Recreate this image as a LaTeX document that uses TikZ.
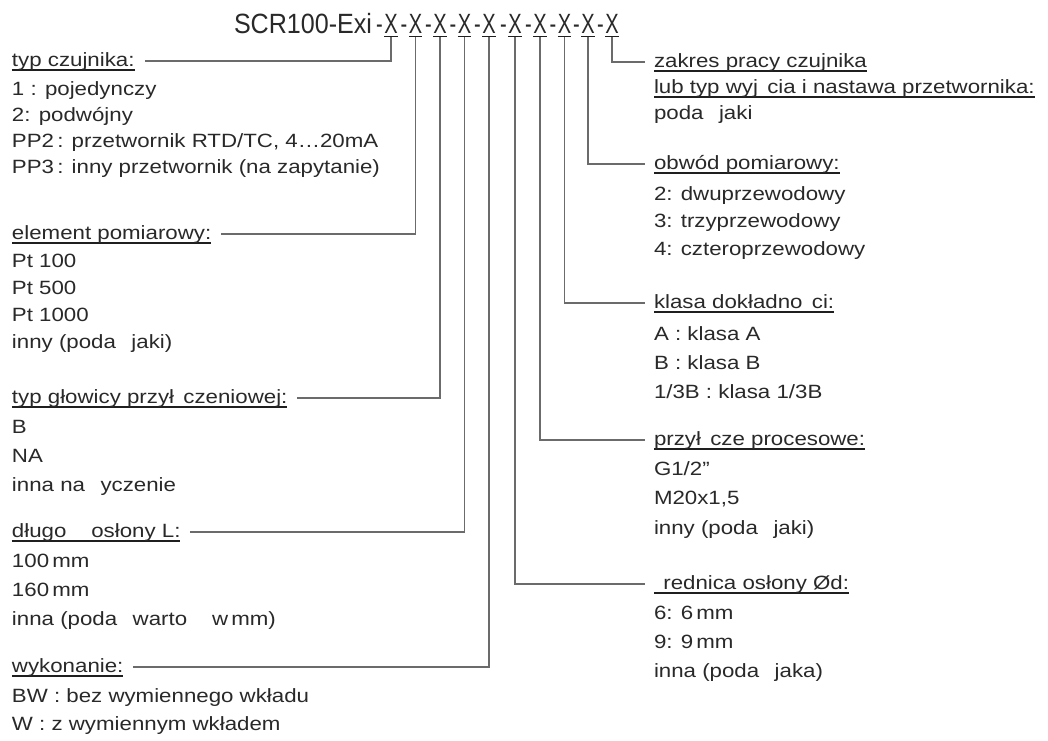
\documentclass[tikz,border=0pt]{standalone}
\usepackage{fontspec}
\setmainfont[FakeStretch=1.16]{Liberation Sans}
\newfontfamily\titlefont[FakeStretch=0.9]{Liberation Sans}
\newfontfamily\xfont[FakeStretch=0.72]{Liberation Sans}
\usetikzlibrary{calc}
\newcommand\ul[1]{\setbox0=\hbox{#1}\rlap{\color{black!88}\rule[-3.3pt]{\wd0}{1.2pt}}\box0}
\newcommand\gp{\hspace{7pt}}
\begin{document}
\begin{tikzpicture}[x=0.75pt,y=-0.75pt,
  txt/.style={anchor=base west,inner sep=0pt,outer sep=0pt,text=black!84,font=\fontsize{14.4pt}{17pt}\selectfont},
  conn/.style={draw=black!58,line width=0.9pt},
  ttl/.style={anchor=base,inner sep=0pt,outer sep=0pt,text=black!84,font=\titlefont\fontsize{20.9pt}{24pt}\selectfont},
  xl/.style={anchor=base,inner sep=0pt,outer sep=0pt,text=black!84,font=\xfont\fontsize{20.9pt}{24pt}\selectfont}]
\useasboundingbox (0,0) rectangle (1048,740);
\fill[white] (0,0) rectangle (1048,740);

% title
\node[ttl,anchor=base east] (title) at (372,33) {SCR100-Exi};
\foreach \xx [count=\i] in {391,415.5,440,464.5,489,515,540,564.5,588,612}
  \node[xl] (X\i) at (\xx,33) {\llap{-\kern1.2pt}\ul{X}};

% left column
\node[txt] (L1) at (12,66.5) {\ul{typ czujnika:}};
\foreach \t [count=\i] in {{1 : pojedynczy},{2: podwójny},{PP2\,: przetwornik RTD/TC, 4…20mA},{PP3\,: inny przetwornik (na zapytanie)}}
  \node[txt] (L1i\i) at (12,{95+(\i-1)*26}) {\t};

\node[txt] (L2) at (12,239.5) {\ul{element pomiarowy:}};
\foreach \t [count=\i] in {{Pt 100},{Pt 500},{Pt 1000},{inny (poda\gp{} jaki)}}
  \node[txt] (L2i\i) at (12,{267+(\i-1)*27}) {\t};

\node[txt] (L3) at (12,403.5) {\ul{typ głowicy przył\gp czeniowej:}};
\foreach \t [count=\i] in {{B},{NA},{inna na \gp yczenie}}
  \node[txt] (L3i\i) at (12,{433.5+(\i-1)*29}) {\t};

\node[txt] (L4) at (12,537.5) {\ul{długo\gp\gp{} osłony L:}};
\foreach \t [count=\i] in {{100\,mm},{160\,mm},{inna (poda\gp{} warto\gp\gp{} w\,mm)}}
  \node[txt] (L4i\i) at (12,{567+(\i-1)*29}) {\t};

\node[txt] (L5) at (12,672.5) {\ul{wykonanie:}};
\foreach \t [count=\i] in {{BW : bez wymiennego wkładu},{W : z wymiennym wkładem}}
  \node[txt] (L5i\i) at (12,{702+(\i-1)*28}) {\t};

% right column
\node[txt] (R1) at (654,67.5) {\ul{zakres pracy czujnika}};
\node[txt] (R1b) at (654,93.5) {\ul{lub typ wyj\gp cia i nastawa przetwornika:}};
\node[txt] (R1i1) at (654,119) {poda\gp{} jaki};

\node[txt] (R2) at (654,169.5) {\ul{obwód pomiarowy:}};
\foreach \t [count=\i] in {{2: dwuprzewodowy},{3: trzyprzewodowy},{4: czteroprzewodowy}}
  \node[txt] (R2i\i) at (654,{200+(\i-1)*27.5}) {\t};

\node[txt] (R3) at (654,308.5) {\ul{klasa dokładno\gp ci:}};
\foreach \t [count=\i] in {{A : klasa A},{B : klasa B},{1/3B : klasa 1/3B}}
  \node[txt] (R3i\i) at (654,{340+(\i-1)*29}) {\t};

\node[txt] (R4) at (654,445.5) {\ul{przył\gp cze procesowe:}};
\foreach \t [count=\i] in {{G1/2"},{M20x1,5},{inny (poda\gp{} jaki)}}
  \node[txt] (R4i\i) at (654,{475+(\i-1)*29.5}) {\t};

\node[txt] (R5) at (654,589.5) {\ul{\gp rednica osłony Ød:}};
\foreach \t [count=\i] in {{6: 6\,mm},{9: 9\,mm},{inna (poda\gp{} jaka)}}
  \node[txt] (R5i\i) at (654,{619+(\i-1)*29}) {\t};

% connectors
\draw[conn] (X1.south) |- ($(L1.base east)+(10,-5.5)$);
\draw[conn] (X2.south) |- ($(L2.base east)+(10,-5.5)$);
\draw[conn] (X3.south) |- ($(L3.base east)+(10,-5.5)$);
\draw[conn] (X4.south) |- ($(L4.base east)+(10,-5.5)$);
\draw[conn] (X5.south) |- ($(L5.base east)+(10,-5.5)$);
\draw[conn] (X6.south) |- ($(R5.base west)+(-9,-5.5)$);
\draw[conn] (X7.south) |- ($(R4.base west)+(-9,-5.5)$);
\draw[conn] (X8.south) |- ($(R3.base west)+(-9,-5.5)$);
\draw[conn] (X9.south) |- ($(R2.base west)+(-9,-5.5)$);
\draw[conn] (X10.south) |- ($(R1.base west)+(-9,-5.5)$);
\end{tikzpicture}
\end{document}
